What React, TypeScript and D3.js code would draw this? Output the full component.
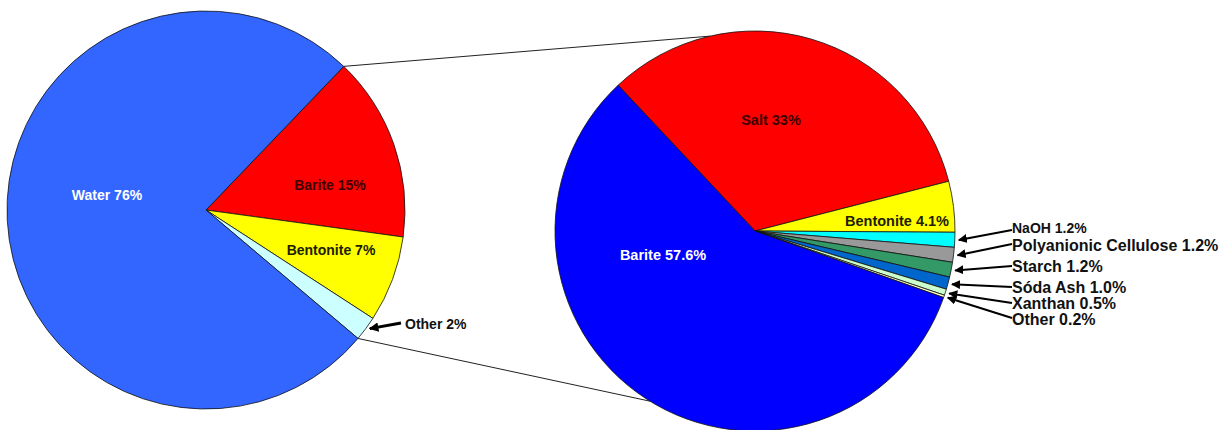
import React from "react";
import * as d3 from "d3";

// ---- Data ----
const leftCategories = ["Barite", "Bentonite", "Other", "Water"];
const leftValues = [15, 7, 2, 76];
const leftLabels = ["Barite 15%", "Bentonite 7%", "Other 2%", "Water 76%"];
const leftColors = ["#FF0000", "#FFFF00", "#CCFFFF", "#3366FF"];

const rightCategories = [
  "Salt", "Bentonite", "NaOH", "Polyanionic Cellulose", "Starch",
  "Sóda Ash", "Xanthan", "Other", "Barite",
];
const rightValues = [33, 4.1, 1.2, 1.2, 1.2, 1.0, 0.5, 0.2, 57.6];
const rightLabels = [
  "Salt 33%", "Bentonite 4.1%", "NaOH 1.2%", "Polyanionic Cellulose 1.2%",
  "Starch 1.2%", "Sóda Ash 1.0%", "Xanthan 0.5%", "Other 0.2%", "Barite 57.6%",
];
const rightColors = [
  "#FF0000", "#FFFF00", "#00FFFF", "#999999", "#339966",
  "#0066CC", "#CCFFCC", "#FFFFCC", "#0000FF",
];

const deg = Math.PI / 180;

export default function App() {
  const W = 1231, H = 430;
  const L = { cx: 206, cy: 210, r: 199, start: 43.8 * deg };
  const R = { cx: 755, cy: 231, r: 200, start: -43.2 * deg };

  const leftPie = d3.pie<number>().sort(null).value((d) => d)
    .startAngle(L.start).endAngle(L.start + 2 * Math.PI)(leftValues);
  const rightPie = d3.pie<number>().sort(null).value((d) => d)
    .startAngle(R.start).endAngle(R.start + 2 * Math.PI)(rightValues);

  const leftArc = d3.arc<d3.PieArcDatum<number>>().innerRadius(0).outerRadius(L.r);
  const rightArc = d3.arc<d3.PieArcDatum<number>>().innerRadius(0).outerRadius(R.r);

  const pt = (c: { cx: number; cy: number }, r: number, a: number): [number, number] => [
    c.cx + r * Math.sin(a),
    c.cy - r * Math.cos(a),
  ];

  // connector lines: from the "Other" group edges in left pie to right pie
  const otherStart = leftPie[0].startAngle;
  const otherEnd = leftPie[2].endAngle;
  const topA = pt(L, L.r, otherStart);
  const topB = pt(R, R.r, -13 * deg);
  const botA = pt(L, L.r, otherEnd);
  const botB = pt(R, R.r, 211.7 * deg);

  const font = "'Liberation Sans', Arial, sans-serif";

  // inner label placements (layout only)
  const leftInner: Record<number, { x: number; y: number; fill: string }> = {
    0: { x: 330, y: 190, fill: "#3a0000" },
    1: { x: 331, y: 255, fill: "#202000" },
    3: { x: 107, y: 200, fill: "#ffffff" },
  };
  const rightInner: Record<number, { x: number; y: number; fill: string }> = {
    0: { x: 771, y: 125, fill: "#3a0000" },
    1: { x: 897, y: 226, fill: "#202000" },
    8: { x: 663, y: 260, fill: "#ffffff" },
  };
  // callout labels for small right slices (index -> baseline y, font size)
  const callouts: Record<number, { y: number; fs: number; ly: number }> = {
    2: { y: 233, fs: 14, ly: 230 },
    3: { y: 251, fs: 16, ly: 244 },
    4: { y: 272, fs: 16, ly: 266 },
    5: { y: 293, fs: 16, ly: 287 },
    6: { y: 309, fs: 16, ly: 303 },
    7: { y: 325, fs: 16, ly: 318 },
  };
  const calloutX = 1012;

  const mid = (d: d3.PieArcDatum<number>) => (d.startAngle + d.endAngle) / 2;

  return (
    <div style={{ position: "absolute", left: 0, top: 0 }}>
      <svg width={W} height={H} style={{ display: "block", background: "#fff" }}>
        <defs>
          <marker id="ah" viewBox="0 0 10 10" refX="9" refY="5" markerWidth="4.5" markerHeight="4.5"
            orient="auto" markerUnits="strokeWidth">
            <path d="M0,0 L10,5 L0,10 z" fill="#000" />
          </marker>
          <marker id="ah2" viewBox="0 0 10 10" refX="9" refY="5" markerWidth="3.2" markerHeight="3.2"
            orient="auto" markerUnits="strokeWidth">
            <path d="M0,0 L10,5 L0,10 z" fill="#000" />
          </marker>
        </defs>

        {/* connectors */}
        <line x1={topA[0]} y1={topA[1]} x2={topB[0]} y2={topB[1]} stroke="#222" strokeWidth={1} />
        <line x1={botA[0]} y1={botA[1]} x2={botB[0]} y2={botB[1]} stroke="#222" strokeWidth={1} />

        {/* left pie */}
        <g transform={`translate(${L.cx},${L.cy})`}>
          {leftPie.map((d, i) => (
            <path key={i} d={leftArc(d) || ""} fill={leftColors[i]} stroke="#111" strokeWidth={0.8} />
          ))}
        </g>
        {/* right pie */}
        <g transform={`translate(${R.cx},${R.cy})`}>
          {rightPie.map((d, i) => (
            <path key={i} d={rightArc(d) || ""} fill={rightColors[i]} stroke="#111" strokeWidth={0.8} />
          ))}
        </g>

        {/* left inner labels */}
        {leftPie.map((d, i) => {
          const p = leftInner[i];
          if (!p) return null;
          return (
            <text key={"li" + i} x={p.x} y={p.y} textAnchor="middle" fill={p.fill}
              fontFamily={font} fontWeight="bold" fontSize={14}>{leftLabels[i]}</text>
          );
        })}
        {/* left Other callout */}
        {(() => {
          const d = leftPie[2];
          const tip = pt(L, L.r + 5, mid(d));
          return (
            <g>
              <line x1={401} y1={323} x2={tip[0]} y2={tip[1] - 3} stroke="#000" strokeWidth={3} markerEnd="url(#ah2)" />
              <text x={405} y={329} fontFamily={font} fontWeight="bold" fontSize={14} fill="#111">{leftLabels[2]}</text>
            </g>
          );
        })()}

        {/* right inner labels */}
        {rightPie.map((d, i) => {
          const p = rightInner[i];
          if (!p) return null;
          return (
            <text key={"ri" + i} x={p.x} y={p.y} textAnchor="middle" fill={p.fill}
              fontFamily={font} fontWeight="bold" fontSize={14.5}>{rightLabels[i]}</text>
          );
        })}
        {/* right callouts */}
        {rightPie.map((d, i) => {
          const c = callouts[i];
          if (c === undefined) return null;
          const tip = pt(R, R.r + 4, mid(d));
          return (
            <g key={"rc" + i}>
              <line x1={calloutX} y1={c.ly} x2={tip[0]} y2={tip[1]} stroke="#000" strokeWidth={2} markerEnd="url(#ah)" />
              <text x={calloutX} y={c.y} fontFamily={font} fontWeight="bold" fontSize={c.fs} fill="#111">{rightLabels[i]}</text>
            </g>
          );
        })}
      </svg>
    </div>
  );
}
